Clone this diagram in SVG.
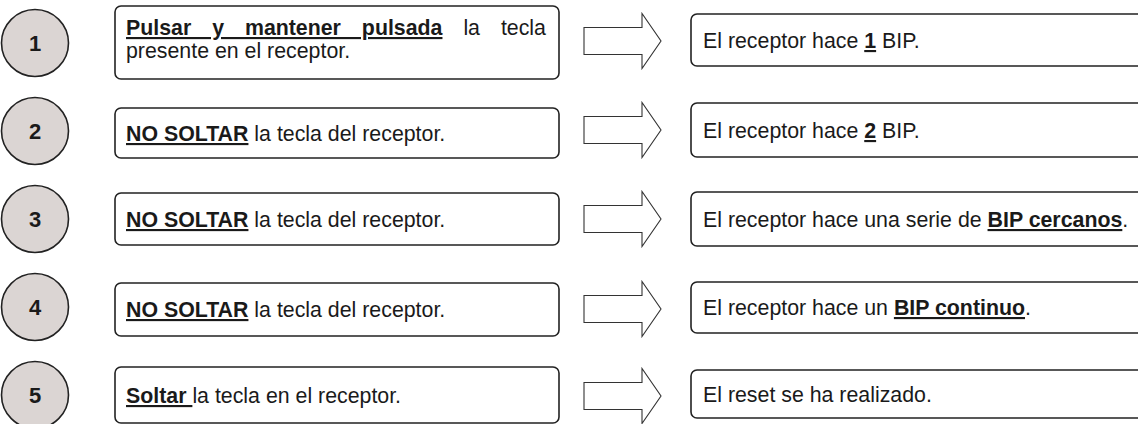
<svg xmlns="http://www.w3.org/2000/svg" width="1138" height="424" viewBox="0 0 1138 424">
<style>
text{font-family:"Liberation Sans",Arial,sans-serif;font-size:21.33px;fill:#1a1a1a}
.num{font-weight:bold;text-anchor:middle;font-size:22px}
.b{font-weight:bold;text-decoration:underline}
.circ{fill:#dbd5d3;stroke:#222;stroke-width:1.6}
.box{fill:#fff;stroke:#222;stroke-width:1.6}
.arr{fill:#fff;stroke:#333;stroke-width:1.1}
</style>
<rect width="1138" height="424" fill="#fff"/>
<g id="step1">
<circle class="circ" cx="35" cy="43" r="33.5"/>
<text class="num" x="35" y="51">1</text>
</g>
<g id="step2">
<circle class="circ" cx="35" cy="131" r="33.5"/>
<text class="num" x="35" y="139">2</text>
</g>
<g id="step3">
<circle class="circ" cx="35" cy="219" r="33.5"/>
<text class="num" x="35" y="227">3</text>
</g>
<g id="step4">
<circle class="circ" cx="35" cy="307" r="33.5"/>
<text class="num" x="35" y="315">4</text>
</g>
<g id="step5">
<circle class="circ" cx="35" cy="395" r="33.5"/>
<text class="num" x="35" y="403">5</text>
</g>
<g id="action1">
<rect class="box" x="115" y="6" width="444" height="73" rx="6"/>
<text x="126" y="35" word-spacing="15"><tspan class="b">Pulsar y mantener pulsada</tspan> la tecla</text>
<text x="126" y="58">presente en el receptor.</text>
</g>
<g id="action2">
<rect class="box" x="115" y="108" width="444" height="50" rx="6"/>
<text x="126" y="141"><tspan class="b">NO SOLTAR</tspan> la tecla del receptor.</text>
</g>
<g id="action3">
<rect class="box" x="115" y="193" width="444" height="52" rx="6"/>
<text x="126" y="227"><tspan class="b">NO SOLTAR</tspan> la tecla del receptor.</text>
</g>
<g id="action4">
<rect class="box" x="115" y="283" width="444" height="53" rx="6"/>
<text x="126" y="317"><tspan class="b">NO SOLTAR</tspan> la tecla del receptor.</text>
</g>
<g id="action5">
<rect class="box" x="115" y="367" width="444" height="56" rx="6"/>
<text x="126" y="403"><tspan class="b">Soltar </tspan>la tecla en el receptor.</text>
</g>
<g id="connectors">
<path class="arr" d="M584 27.5H642V13.5L661 41L642 68.5V54.5H584Z"/>
<path class="arr" d="M584 116.5H642V102.5L661 130L642 157.5V143.5H584Z"/>
<path class="arr" d="M584 205.5H642V191.5L661 219L642 246.5V232.5H584Z"/>
<path class="arr" d="M584 295.5H642V281.5L661 309L642 336.5V322.5H584Z"/>
<path class="arr" d="M584 382.5H642V368.5L661 396L642 423.5V409.5H584Z"/>
</g>
<g id="result1">
<rect class="box" x="691" y="14" width="470" height="52" rx="6"/>
<text x="703" y="48">El receptor hace <tspan class="b">1</tspan> BIP.</text>
</g>
<g id="result2">
<rect class="box" x="691" y="103" width="470" height="54" rx="6"/>
<text x="703" y="138">El receptor hace <tspan class="b">2</tspan> BIP.</text>
</g>
<g id="result3">
<rect class="box" x="691" y="192" width="470" height="54" rx="6"/>
<text x="703" y="227">El receptor hace una serie de <tspan class="b">BIP cercanos</tspan>.</text>
</g>
<g id="result4">
<rect class="box" x="691" y="282" width="470" height="51" rx="6"/>
<text x="703" y="315">El receptor hace un <tspan class="b">BIP continuo</tspan>.</text>
</g>
<g id="result5">
<rect class="box" x="691" y="370" width="470" height="48" rx="6"/>
<text x="703" y="402">El reset se ha realizado.</text>
</g>
</svg>
